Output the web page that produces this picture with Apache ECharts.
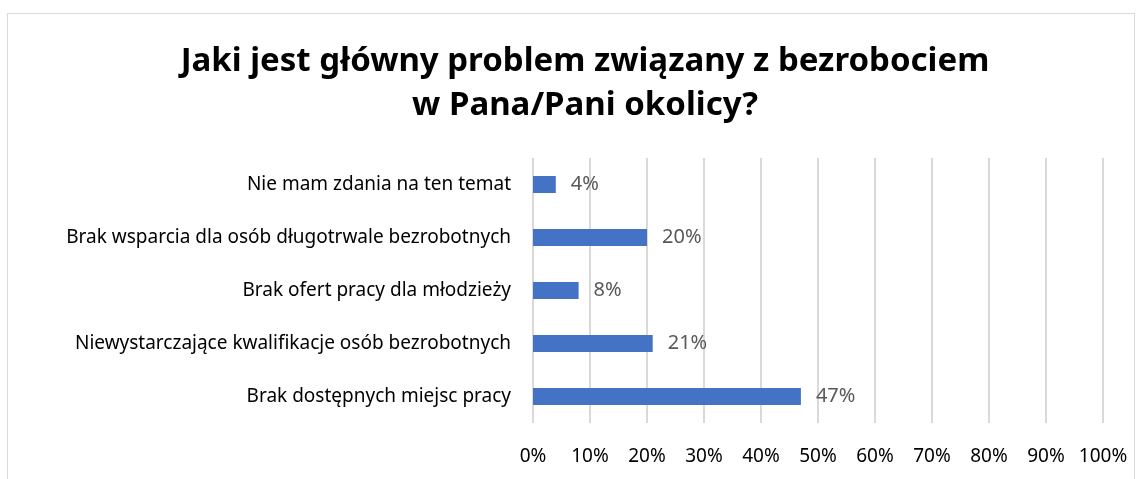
<!DOCTYPE html>
<html>
<head>
<meta charset="utf-8">
<script src="https://cdn.jsdelivr.net/npm/echarts@6/dist/echarts.min.js"></script>
<style>
  html, body { margin: 0; padding: 0; background: #fff; }
  .frame {
    position: absolute; left: 7px; top: 13px; width: 1128px; height: 480px;
    border: 1px solid #d9d9d9; box-sizing: border-box;
  }
  #chart { position: absolute; left: 0; top: 0; width: 1144px; height: 479px; }
</style>
</head>
<body>
<div class="frame"></div>
<div id="chart"></div>
<script>
const categories = [
  'Brak dostępnych miejsc pracy',
  'Niewystarczające kwalifikacje osób bezrobotnych',
  'Brak ofert pracy dla młodzieży',
  'Brak wsparcia dla osób długotrwale bezrobotnych',
  'Nie mam zdania na ten temat'
]
const values = [47, 21, 8, 20, 4]
const tickLabels = ['0%', '10%', '20%', '30%', '40%', '50%', '60%', '70%', '80%', '90%', '100%']

const font = '"Noto Sans", sans-serif'
const dom = echarts.init(document.getElementById('chart'))
const option = {
  animation: false,
  title: {
    text: 'Jaki jest główny problem związany z bezrobociem\nw Pana/Pani okolicy?',
    left: 580,
    top: 35,
    textAlign: 'center',
    textStyle: {
      fontFamily: font,
      fontSize: 33,
      fontWeight: 'bold',
      color: '#000',
      lineHeight: 44
    }
  },
  grid: {
    left: 533,
    right: 41,
    top: 158,
    bottom: 56
  },
  xAxis: {
    type: 'value',
    min: 0,
    max: 100,
    interval: 10,
    axisLine: { show: false },
    axisTick: { show: false },
    splitLine: {
      show: true,
      lineStyle: { color: '#d9d9d9', width: 2 }
    },
    axisLabel: {
      margin: 24,
      color: '#000',
      fontFamily: font,
      fontSize: 19,
      formatter: (v) => tickLabels[v / 10]
    }
  },
  yAxis: {
    type: 'category',
    data: categories,
    axisLine: { show: false },
    axisTick: { show: false },
    axisLabel: {
      margin: 22,
      color: '#000',
      fontFamily: font,
      fontSize: 19
    }
  },
  series: [{
    type: 'bar',
    data: values,
    barWidth: 17,
    itemStyle: { color: '#4472C4' },
    label: {
      show: true,
      position: 'right',
      distance: 15,
      color: '#595959',
      fontFamily: font,
      fontSize: 20,
      formatter: (p) => p.value + '%'
    }
  }]
}
dom.setOption(option)
</script>
</body>
</html>
